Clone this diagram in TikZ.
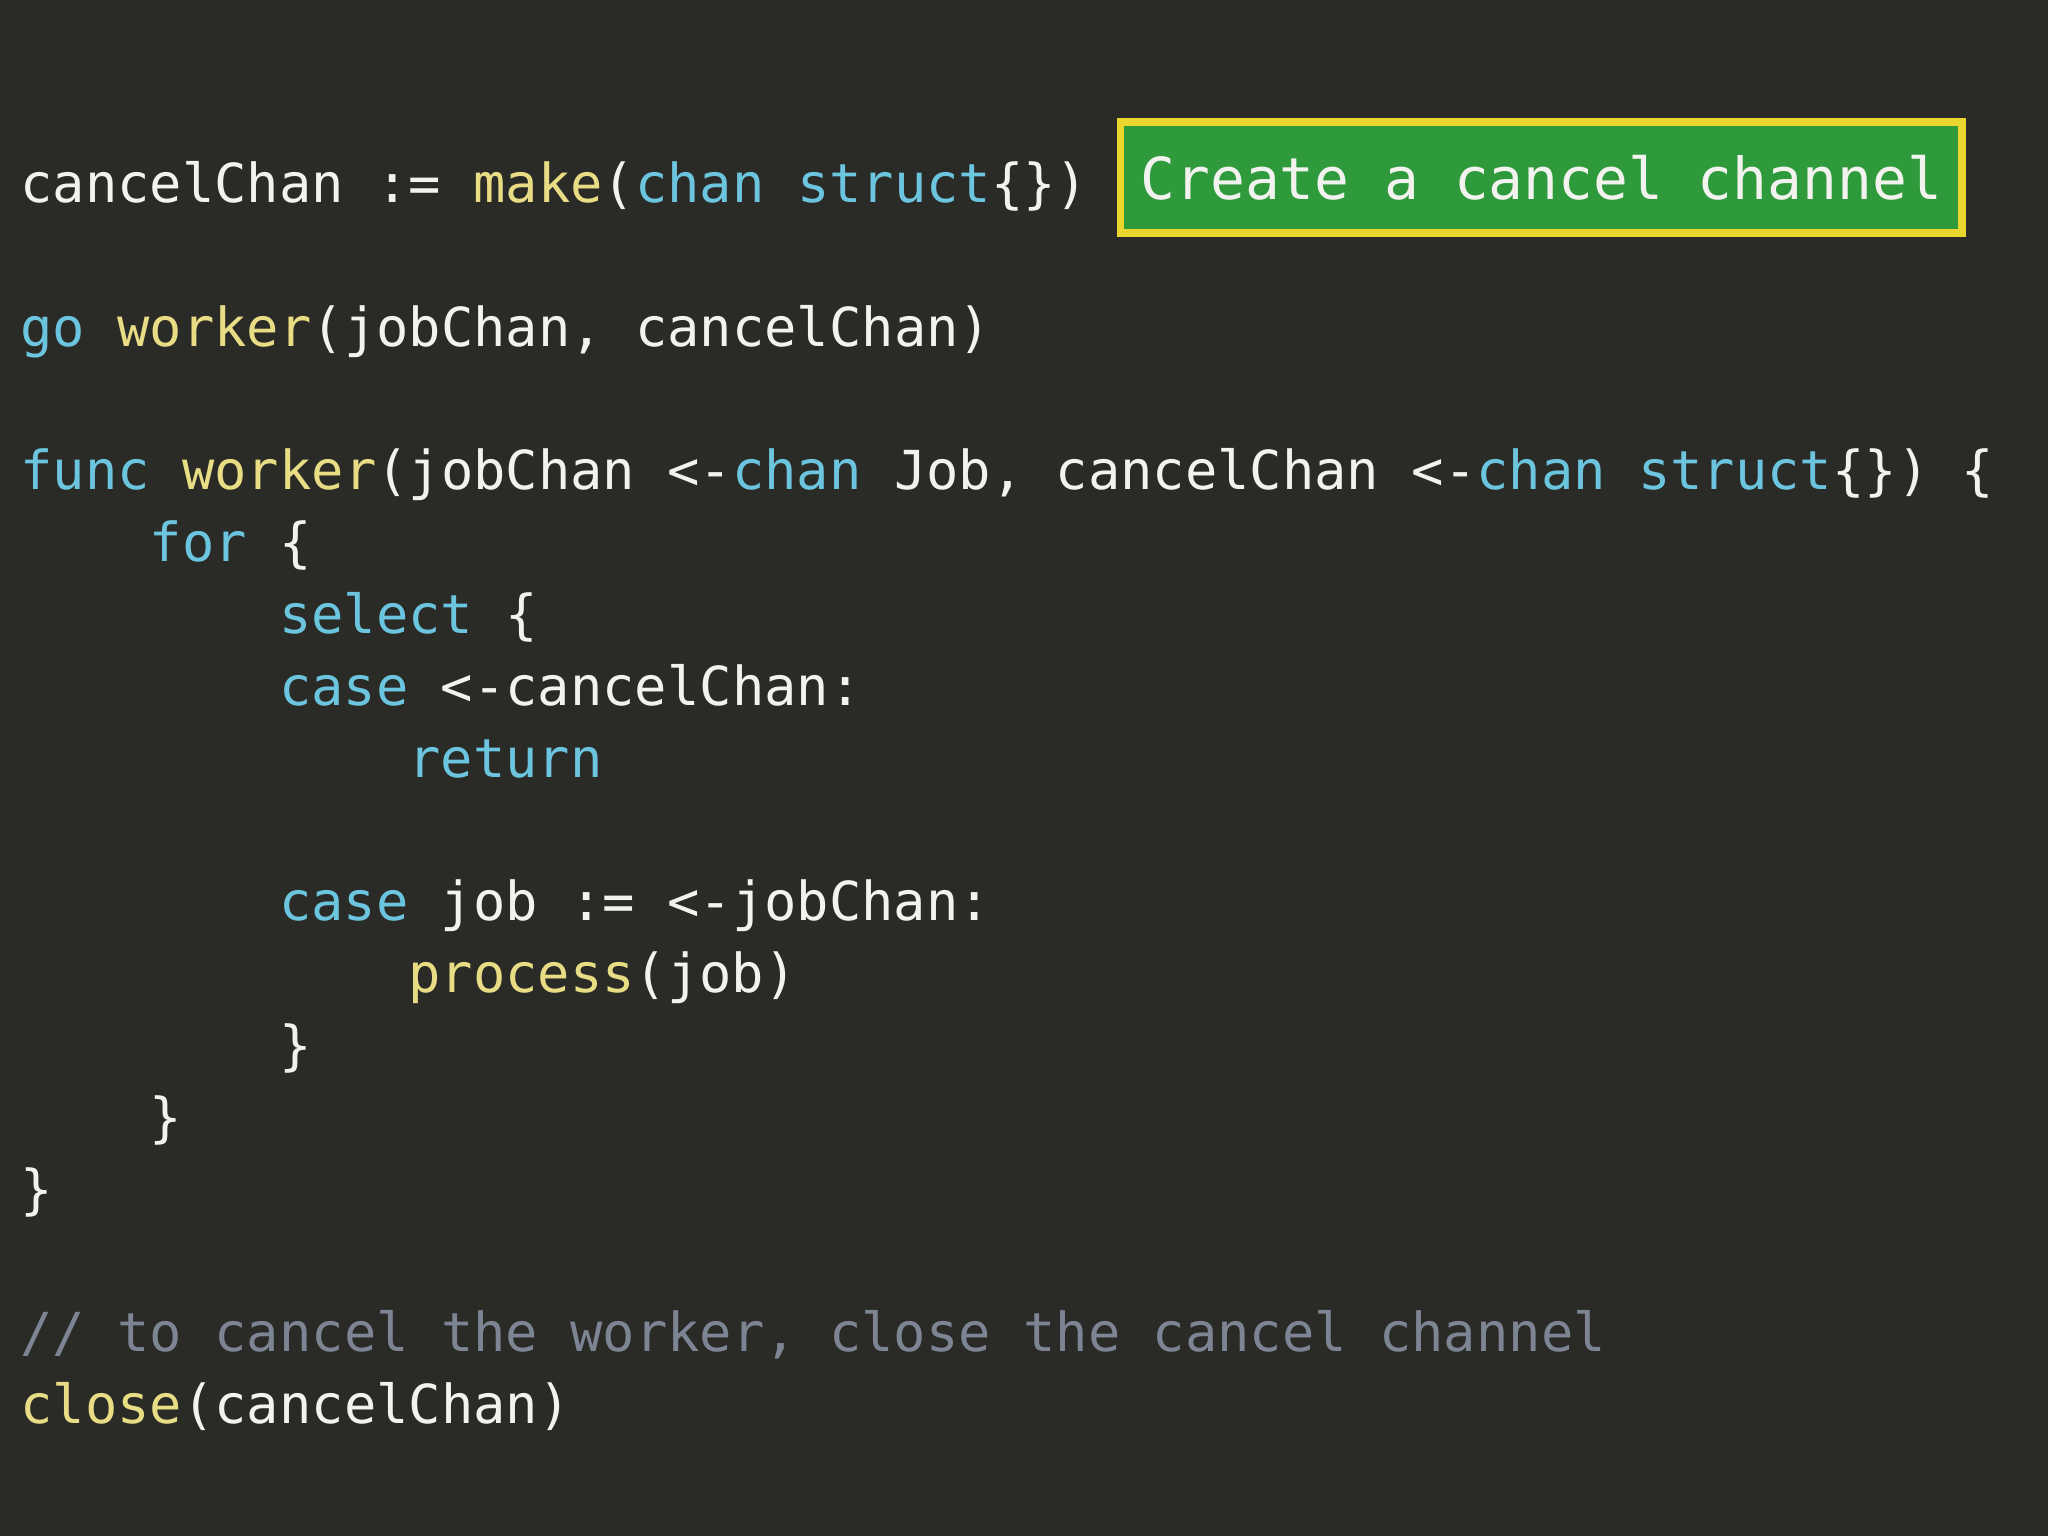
\documentclass[tikz,border=0pt]{standalone}
\usepackage{fontspec}
\setmonofont{DejaVu Sans Mono}
\definecolor{bg}{HTML}{2A2A27}
\definecolor{fg}{HTML}{F2F2EE}
\definecolor{kw}{HTML}{6CC5DE}
\definecolor{fn}{HTML}{E8DD84}
\definecolor{cm}{HTML}{7D8594}
\definecolor{gbox}{HTML}{2E9A3C}
\definecolor{ybord}{HTML}{EAD62C}
\newcommand{\K}[1]{\textcolor{kw}{#1}}
\newcommand{\F}[1]{\textcolor{fn}{#1}}
\begin{document}
\begin{tikzpicture}[x=0.01cm,y=-0.01cm,
  code/.style={anchor=base west,inner sep=0pt,text=fg,font=\ttfamily\fontsize{11.7}{14}\selectfont}]
\fill[bg] (0,0) rectangle (1568,1176);
\node[code] (l1) at (15,155) {cancelChan := \F{make}(\K{chan} \K{struct}\{\})};
\node[draw=ybord,line width=1.6pt,fill=gbox,minimum width=6.44cm,minimum height=0.85cm,inner sep=0pt,text=fg,font=\ttfamily\fontsize{12.6}{15}\selectfont] (note) at (1180,136) {Create a cancel channel};
\node[code] (l2) at (15,265) {\K{go} \F{worker}(jobChan, cancelChan)};
\node[code] (l3) at (15,375) {\K{func} \F{worker}(jobChan <-\K{chan} Job, cancelChan <-\K{chan} \K{struct}\{\}) \{};
\node[code] (l4) at (114,430) {\K{for} \{};
\node[code] (l5) at (213,485) {\K{select} \{};
\node[code] (l6) at (213,540) {\K{case} <-cancelChan:};
\node[code] (l7) at (312,595) {\K{return}};
\node[code] (l8) at (213,705) {\K{case} job := <-jobChan:};
\node[code] (l9) at (312,760) {\F{process}(job)};
\node[code] (l10) at (213,815) {\}};
\node[code] (l11) at (114,870) {\}};
\node[code] (l12) at (15,925) {\}};
\node[code,text=cm] (l13) at (15,1035) {// to cancel the worker, close the cancel channel};
\node[code] (l14) at (15,1090) {\F{close}(cancelChan)};
\end{tikzpicture}
\end{document}
